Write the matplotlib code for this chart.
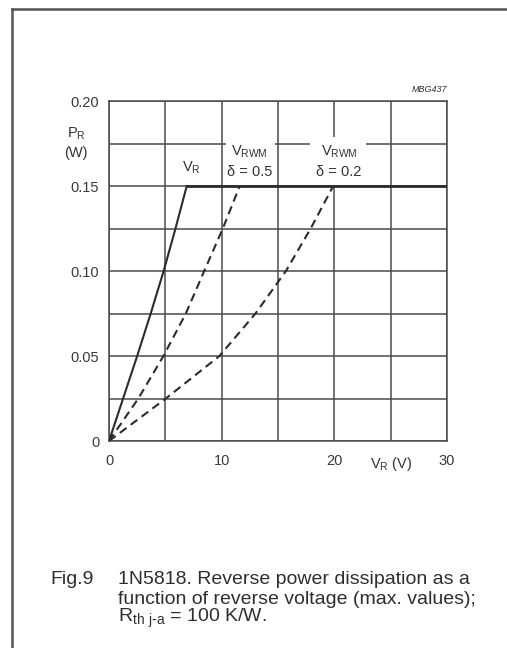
import matplotlib
matplotlib.use("Agg")
import matplotlib.pyplot as plt
from matplotlib.patches import Rectangle
from matplotlib.lines import Line2D

plt.rcParams['font.family'] = ['Liberation Sans', 'DejaVu Sans']
plt.rcParams['mathtext.default'] = 'regular'

# curve data (V, W)
vr_v = [0, 2.5, 3.7, 4.85, 5.9, 6.9]
vr_p = [0, 0.05, 0.075, 0.10, 0.125, 0.15]

d05_v = [0, 2.6, 4.83, 6.82, 8.45, 10.1, 11.6]
d05_p = [0, 0.025, 0.05, 0.075, 0.10, 0.125, 0.15]

d02_v = [0, 5.04, 9.8, 13.0, 15.7, 17.9, 19.9]
d02_p = [0, 0.025, 0.05, 0.075, 0.10, 0.125, 0.15]

flat_v = [6.9, 30]
flat_p = [0.15, 0.15]

xticks = [0, 10, 20, 30]
yticks = [0, 0.05, 0.10, 0.15, 0.20]
yticklabels = ['0', '0.05', '0.10', '0.15', '0.20']

ink = '#2b2b2b'
gridc = '#4a4a4a'

fig = plt.figure(figsize=(5.07, 6.48), dpi=100)
ax = fig.add_axes([0.215, 0.3194, 0.6667, 0.5247])
ax.set_xlim(0, 30)
ax.set_ylim(0, 0.20)

ax.set_xticks(xticks)
ax.set_xticks(range(0, 31, 5), minor=True)
ax.set_yticks(yticks)
ax.set_yticklabels(yticklabels)
ax.set_yticks([i * 0.025 for i in range(9)], minor=True)
ax.grid(which='both', color=gridc, lw=1.1, zorder=1)
ax.tick_params(which='both', length=0, labelsize=10.5, labelcolor='#3a3a3a')
ax.tick_params(axis='x', pad=9)
ax.tick_params(axis='y', pad=7)
for s in ax.spines.values():
    s.set_color(gridc)
    s.set_linewidth(1.1)
ax.set_axisbelow(True)

# white patches where the grid is broken for the labels
ax.add_patch(Rectangle((10.4, 0.1505), 4.3, 0.0275, fc='white', ec='none', zorder=2))
ax.add_patch(Rectangle((17.8, 0.1505), 5.0, 0.0285, fc='white', ec='none', zorder=2))

ax.plot(vr_v, vr_p, color=ink, lw=1.5, zorder=3)
ax.plot(d05_v, d05_p, color=ink, lw=1.5, ls=(0, (4, 2.5)), zorder=3)
ax.plot(d02_v, d02_p, color=ink, lw=1.5, ls=(0, (4, 2.5)), zorder=3)
ax.plot(flat_v, flat_p, color=ink, lw=2.0, zorder=3)

tk = dict(color='#333333', fontsize=10.5, ha='center', va='center', zorder=4)
ax.text(7.3, 0.1605, '$V_R$', **tk)
ax.text(12.5, 0.1700, '$V_{RWM}$', **tk)
ax.text(12.5, 0.1585, 'δ = 0.5', **tk)
ax.text(20.4, 0.1700, '$V_{RWM}$', **tk)
ax.text(20.4, 0.1585, 'δ = 0.2', **tk)
ax.text(25.0, -0.0135, '$V_R$ (V)', clip_on=False, **tk)
ax.text(-2.9, 0.1805, '$P_R$', clip_on=False, **tk)
ax.text(-2.9, 0.1695, '(W)', clip_on=False, **tk)
ax.text(30, 0.2065, 'MBG437', color='#333333', fontsize=6.5, style='italic',
        ha='right', va='center')

# frame of the datasheet figure
fig.add_artist(Line2D([12 / 507, 12 / 507], [0, 1 - 9 / 648], color='#555555', lw=1.8))
fig.add_artist(Line2D([12 / 507, 1], [1 - 9 / 648, 1 - 9 / 648], color='#555555', lw=1.8))

cap = dict(color='#2e2e2e', fontsize=14, ha='left', va='center')
fig.text(50 / 507, 1 - 580 / 648, 'Fig.9', **cap)
fig.text(118 / 507, 1 - 580 / 648, '1N5818. Reverse power dissipation as a', **cap)
fig.text(118 / 507, 1 - 599 / 648, 'function of reverse voltage (max. values);', **cap)
fig.text(118 / 507, 1 - 618 / 648, r'$R_{th\ j\text{-}a}$ = 100 K/W.', **cap)

fig.savefig('out.png', dpi=100, facecolor='white')
